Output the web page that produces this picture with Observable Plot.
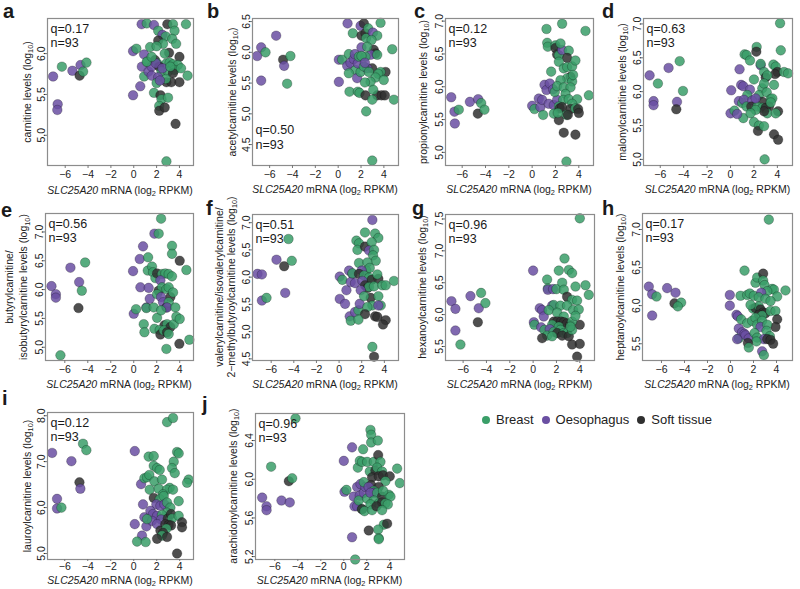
<!DOCTYPE html>
<html><head><meta charset="utf-8">
<script src="https://cdn.jsdelivr.net/npm/d3@7"></script>
<script src="https://cdn.jsdelivr.net/npm/@observablehq/plot@0.6"></script>
<style>
body{margin:0;background:#fff;font-family:"Liberation Sans",Arial,sans-serif;color:#1a1a1a;}
#fig{position:relative;width:800px;height:589px;overflow:hidden;background:#fff;}
#fig svg{position:absolute;overflow:visible;}
.letter{position:absolute;font-weight:bold;font-size:20px;line-height:1;}
.xlab,.ylab{position:absolute;font-size:10.5px;white-space:nowrap;text-align:center;color:#222;}
.xlab{transform:translate(-50%,-50%);line-height:1;}
.ylab{transform:translate(-50%,-50%) rotate(-90deg);}
sub{font-size:0.7em;vertical-align:-0.3em;line-height:0;}
.legend{position:absolute;display:flex;align-items:center;font-size:13px;color:#222;}
.legend span.dot{display:inline-block;width:8px;height:8px;border-radius:50%;margin:0 6px 0 8px;}
</style></head>
<body><div id="fig"></div>
<script>
// ---- categories ----
const tissueCodes = ["B", "O", "S"];
const tissueNames = ["Breast", "Oesophagus", "Soft tissue"];
const xTicks = [-6, -4, -2, 0, 2, 4];
const nSamples = 93;
const qValues = ["0.17", "0.50", "0.12", "0.63", "0.56", "0.51", "0.96", "0.17", "0.12", "0.96"];
const panelLetters = ["a", "b", "c", "d", "e", "f", "g", "h", "i", "j"];
const yLabels = [
  ["carnitine levels"], ["acetylcarnitine levels"], ["propionylcarnitine levels"], ["malonylcarnitine levels"],
  ["butyrylcarnitine/", "isobutyrylcarnitine levels"],
  ["valerylcarnitine/isovalerylcarnitine/", "2\u2212methylbutyroylcarnitine levels"],
  ["hexanoylcarnitine levels"], ["heptanoylcarnitine levels"], ["lauroylcarnitine levels"], ["arachidonylcarnitine levels"]
];
// ---- y tick values ----
const yTicksA = [5.0, 5.5, 6.0];
const yTicksB = [4.5, 5.0, 5.5, 6.0, 6.5];
const yTicksC = [5.0, 5.5, 6.0, 6.5, 7.0];
const yTicksD = [5.0, 5.5, 6.0, 6.5, 7.0];
const yTicksE = [5.0, 5.5, 6.0, 6.5, 7.0];
const yTicksF = [4.5, 5.0, 5.5, 6.0, 6.5, 7.0];
const yTicksG = [5.5, 6.0, 6.5, 7.0, 7.5];
const yTicksH = [5.5, 6.0, 6.5, 7.0];
const yTicksI = [5.0, 6.0, 7.0, 8.0];
const yTicksJ = [5.2, 5.6, 6.0, 6.4];

// ---- points: [SLC25A20 mRNA, metabolite level, tissue] ----
const carnitine = [[-7.06,5.72,"O"],[-6.66,5.38,"O"],[-6.69,5.31,"O"],[-6.29,5.84,"B"],[-5.37,5.79,"O"],[-4.66,5.86,"O"],[-4.74,5.73,"S"],[-4.43,5.78,"B"],[-4.14,5.89,"B"],
[-0.06,5.49,"O"],[-0.06,6.03,"O"],[0.23,6.06,"B"],[0.57,5.60,"O"],[0.69,6.36,"O"],[1.14,6.37,"B"],[0.91,5.99,"O"],[0.91,5.72,"B"],[0.71,5.84,"O"],[1.2,5.90,"B"],[1.29,5.78,"O"],[1.57,5.84,"O"],[1.43,6.08,"B"],[1.77,6.35,"O"],[2.14,6.28,"B"],[2.94,6.36,"S"],[3.43,6.36,"B"],[4.57,6.36,"B"],[2.51,6.23,"O"],[2.8,6.21,"B"],[3.57,6.28,"B"],[2.14,6.16,"S"],[2.57,6.12,"B"],[2.0,6.09,"B"],[3.09,6.01,"S"],[3.37,6.18,"B"],[3.71,6.12,"B"],[4.0,5.96,"S"],[2.71,6.00,"B"],[2.86,5.88,"B"],[3.14,5.89,"B"],[3.43,5.87,"B"],[3.86,5.86,"B"],[1.86,5.92,"S"],[1.14,5.90,"B"],[2.06,5.88,"B"],[1.57,5.73,"O"],[2.23,5.84,"S"],[2.43,5.78,"B"],[3.0,5.78,"B"],[3.57,5.80,"B"],[4.14,5.82,"B"],[3.43,5.76,"S"],[4.71,5.73,"B"],[2.14,5.71,"O"],[2.0,5.64,"B"],[2.86,5.65,"S"],[3.29,5.65,"S"],[4.0,5.65,"S"],[2.8,5.69,"B"],[2.29,5.67,"O"],[1.77,5.52,"B"],[2.34,5.49,"S"],[2.43,5.44,"B"],[3.0,5.46,"B"],[2.23,5.36,"B"],[2.23,5.30,"S"],[2.71,5.34,"S"],[3.66,5.14,"S"],[2.86,4.68,"B"],[1.94,5.88,"O"],[2.51,5.82,"O"],[3.2,5.84,"B"],[1.57,5.96,"B"]];

const acetylcarnitine = [[-7.09,5.94,"O"],[-6.74,6.08,"O"],[-6.74,5.54,"O"],[-6.36,6.00,"B"],[-5.43,6.27,"O"],[-4.82,5.88,"S"],[-4.73,5.78,"O"],[-4.18,5.94,"B"],[-4.47,5.49,"B"],
[0.06,5.88,"O"],[0.06,5.52,"O"],[0.35,5.88,"B"],[0.82,6.47,"O"],[0.79,5.78,"O"],[0.93,5.97,"B"],[1.08,5.83,"O"],[1.37,5.89,"O"],[1.28,6.31,"B"],[1.46,5.97,"O"],[1.52,5.71,"B"],[0.93,5.66,"B"],[1.66,5.58,"O"],[1.96,5.68,"B"],[1.72,5.82,"O"],[1.81,5.93,"B"],[0.99,5.36,"B"],[1.72,5.36,"B"],[1.87,5.34,"B"],[1.96,6.43,"O"],[2.25,6.47,"S"],[2.04,6.27,"S"],[2.39,6.31,"S"],[2.45,6.23,"B"],[2.04,6.08,"O"],[2.63,6.39,"B"],[3.04,6.32,"O"],[3.42,6.27,"B"],[3.71,6.48,"B"],[2.92,6.20,"B"],[3.12,6.04,"S"],[3.27,5.98,"S"],[2.83,5.96,"O"],[2.39,5.93,"B"],[2.54,6.09,"B"],[3.42,5.96,"B"],[4.73,6.05,"B"],[2.98,5.74,"S"],[2.54,5.74,"O"],[2.25,5.77,"B"],[2.69,5.68,"B"],[4.15,5.68,"S"],[3.71,5.68,"B"],[3.5,5.65,"B"],[3.27,5.59,"B"],[3.99,5.55,"B"],[2.83,5.52,"B"],[2.34,5.51,"B"],[2.39,5.30,"S"],[3.42,5.30,"S"],[3.8,5.30,"S"],[4.09,5.30,"S"],[3.07,5.39,"B"],[2.98,5.23,"B"],[2.45,5.04,"B"],[4.88,5.23,"B"],[2.98,4.24,"B"],[2.04,5.94,"B"],[2.34,5.83,"O"]];

const propionylcarnitine = [[-6.94,5.84,"O"],[-6.66,5.62,"O"],[-6.63,5.44,"O"],[-6.29,5.65,"B"],[-5.34,5.77,"O"],[-4.63,5.81,"O"],[-4.66,5.59,"S"],[-4.37,5.75,"B"],[-4.09,5.65,"B"],
[0,5.71,"O"],[0.2,5.66,"B"],[0.57,5.82,"O"],[0.71,5.69,"O"],[0.94,5.57,"B"],[1.06,6.03,"O"],[1.23,5.95,"O"],[0.86,5.80,"O"],[1.23,6.88,"B"],[1.29,6.67,"B"],[1.34,6.61,"B"],[1.63,6.23,"B"],[1.51,6.05,"O"],[1.8,5.96,"O"],[1.43,5.74,"O"],[1.86,5.72,"O"],[2.14,5.80,"O"],[1.94,5.92,"B"],[2.0,6.63,"B"],[2.0,6.59,"S"],[2.14,6.49,"S"],[2.29,6.48,"B"],[2.57,6.56,"O"],[2.43,6.66,"B"],[2.57,6.96,"B"],[3.14,6.55,"B"],[3.0,6.44,"S"],[2.29,6.38,"B"],[2.71,6.28,"B"],[3.0,6.30,"B"],[3.43,6.31,"B"],[3.71,6.40,"B"],[4.57,6.85,"B"],[3.29,6.15,"S"],[3.0,6.13,"B"],[3.43,6.08,"B"],[2.43,6.10,"B"],[2.14,6.01,"B"],[2.71,5.99,"B"],[3.29,5.99,"B"],[2.86,5.89,"B"],[2.66,5.80,"B"],[3.14,5.81,"B"],[3.86,5.81,"B"],[4.86,5.87,"B"],[2.29,5.70,"B"],[3.43,5.74,"B"],[2.37,5.67,"S"],[2.57,5.69,"S"],[3.29,5.66,"S"],[3.71,5.67,"B"],[3.94,5.66,"S"],[4.0,5.60,"S"],[2.94,5.57,"B"],[1.86,5.59,"B"],[2.29,5.49,"S"],[3.06,5.57,"S"],[2.71,5.30,"S"],[3.71,5.27,"S"],[2.94,4.86,"B"],[2.2,5.60,"B"],[3.51,6.18,"B"]];

const malonylcarnitine = [[-6.91,6.24,"O"],[-6.57,5.86,"O"],[-6.57,5.80,"O"],[-6.2,6.12,"B"],[-5.29,6.35,"O"],[-4.34,6.45,"B"],[-4.57,5.85,"O"],[-4.63,5.74,"S"],[-4.06,6.01,"B"],
[0.06,6.02,"O"],[0,5.68,"O"],[0.34,5.72,"B"],[0.77,6.33,"O"],[0.71,5.86,"O"],[0.91,6.10,"O"],[1.09,6.08,"O"],[1.0,5.83,"B"],[1.09,5.61,"B"],[0.57,5.67,"O"],[1.2,6.55,"B"],[1.37,6.54,"B"],[1.66,6.46,"B"],[2.0,6.18,"B"],[1.66,6.03,"O"],[1.43,5.95,"B"],[1.14,5.88,"O"],[1.37,5.78,"B"],[1.86,5.87,"O"],[1.77,5.78,"S"],[2.23,6.66,"B"],[2.2,6.59,"S"],[2.57,6.39,"O"],[2.57,6.41,"B"],[4.23,7.01,"B"],[4.29,6.61,"B"],[3.66,6.40,"B"],[3.86,6.37,"B"],[4.0,6.29,"S"],[3.8,6.26,"S"],[2.86,6.29,"B"],[3.0,6.21,"S"],[3.14,6.24,"B"],[4.57,6.29,"B"],[4.91,6.27,"B"],[3.71,6.10,"B"],[2.71,6.05,"B"],[2.86,6.12,"B"],[2.43,5.95,"B"],[3.09,5.99,"B"],[3.43,5.89,"B"],[3.57,5.90,"B"],[2.71,5.85,"S"],[3.29,5.78,"S"],[2.29,5.78,"B"],[2.71,5.76,"B"],[3.0,5.76,"S"],[3.14,5.68,"B"],[2.86,5.71,"S"],[2.14,5.73,"B"],[1.71,5.68,"B"],[4.06,5.71,"S"],[3.86,5.68,"B"],[2.0,5.55,"B"],[2.43,5.5,"B"],[2.34,5.42,"S"],[2.86,5.49,"B"],[3.71,5.37,"S"],[4.06,5.29,"S"],[2.91,5.0,"B"],[3.43,5.84,"B"],[2.14,5.90,"O"]];

const butyrylcarnitine = [[-7.16,6.06,"O"],[-6.78,5.92,"O"],[-6.78,5.86,"O"],[-6.38,4.86,"B"],[-5.51,6.38,"O"],[-4.75,6.13,"O"],[-4.81,5.68,"S"],[-4.52,5.98,"B"],[-4.23,6.47,"B"],
[-0.06,6.32,"O"],[0,5.58,"O"],[0.2,5.66,"B"],[0.81,6.75,"O"],[0.52,6.53,"O"],[0.58,6.04,"O"],[0.87,5.40,"B"],[0.93,5.26,"B"],[1.25,6.56,"B"],[1.22,6.33,"B"],[1.3,6.03,"O"],[1.59,6.40,"B"],[1.68,6.30,"B"],[1.8,6.97,"O"],[2.17,6.97,"B"],[2.38,7.23,"B"],[1.1,5.69,"O"],[1.39,5.84,"O"],[1.1,5.68,"B"],[1.88,6.20,"B"],[2.03,6.28,"S"],[2.46,6.27,"B"],[2.75,6.28,"B"],[3.04,6.27,"B"],[3.33,6.76,"B"],[3.33,6.62,"B"],[4.0,6.50,"S"],[4.58,6.34,"B"],[3.33,6.23,"B"],[2.32,6.16,"O"],[2.17,5.98,"S"],[2.46,6.04,"B"],[2.03,5.92,"B"],[2.38,5.87,"O"],[2.84,6.01,"B"],[3.04,6.04,"B"],[3.19,5.87,"S"],[3.42,5.95,"B"],[2.55,5.78,"O"],[2.84,5.69,"S"],[3.04,5.78,"B"],[2.9,5.69,"O"],[3.62,5.69,"B"],[2.03,5.51,"B"],[2.67,5.38,"S"],[2.9,5.40,"B"],[3.19,5.35,"S"],[3.48,5.40,"B"],[3.71,5.53,"B"],[4.0,5.49,"B"],[1.8,5.32,"B"],[2.26,5.30,"B"],[2.32,5.22,"S"],[2.61,5.29,"B"],[2.9,5.26,"S"],[3.04,5.23,"B"],[2.84,4.97,"B"],[3.97,5.06,"S"],[4.84,5.13,"B"],[1.74,5.69,"B"],[2.38,5.64,"B"]];

const valerylcarnitine = [[-7.21,6.06,"O"],[-6.82,6.05,"O"],[-6.82,5.57,"O"],[-6.41,5.62,"B"],[-5.53,6.32,"O"],[-4.85,6.20,"S"],[-4.76,5.71,"O"],[-4.47,6.70,"B"],[-4.18,6.30,"B"],
[0.06,6.01,"O"],[0.06,5.60,"O"],[0.29,5.95,"B"],[0.53,5.51,"O"],[0.65,5.76,"O"],[0.88,6.12,"O"],[1.18,6.06,"O"],[1.03,5.91,"O"],[1.18,6.07,"B"],[1.41,5.89,"O"],[0.94,5.28,"O"],[1.03,5.20,"B"],[1.41,5.36,"O"],[1.71,5.39,"B"],[1.82,5.51,"O"],[1.53,6.67,"B"],[1.76,6.62,"B"],[1.62,6.50,"B"],[2.29,6.56,"S"],[2.29,6.82,"B"],[2.94,7.05,"O"],[3.18,6.80,"B"],[3.47,6.72,"B"],[2.88,6.64,"B"],[2.65,6.49,"O"],[3.09,6.50,"B"],[3.0,6.40,"B"],[3.24,6.30,"B"],[1.76,6.26,"B"],[2.5,6.27,"B"],[2.41,6.12,"B"],[2.71,6.17,"B"],[2.0,6.12,"O"],[1.76,6.06,"S"],[2.21,6.03,"B"],[2.65,5.99,"B"],[2.88,5.95,"S"],[3.47,5.97,"S"],[3.38,6.05,"B"],[2.06,5.93,"O"],[2.29,5.85,"S"],[2.5,5.80,"S"],[2.65,5.82,"B"],[3.09,5.83,"B"],[3.82,5.85,"B"],[4.12,5.85,"B"],[2.79,5.62,"S"],[3.47,5.65,"B"],[3.68,5.48,"B"],[1.91,5.76,"O"],[2.21,5.65,"B"],[2.94,5.48,"B"],[3.47,5.48,"O"],[2.5,5.45,"B"],[2.29,5.32,"S"],[3.18,5.28,"S"],[3.38,5.27,"S"],[4.12,5.21,"S"],[3.88,5.13,"S"],[2.94,4.72,"B"],[3.09,4.54,"S"],[4.85,5.93,"B"],[1.71,5.22,"B"]];

const hexanoylcarnitine = [[-7.0,6.21,"O"],[-6.66,6.09,"O"],[-6.66,5.75,"O"],[-6.23,5.53,"B"],[-5.37,6.29,"O"],[-4.46,6.34,"B"],[-4.66,6.10,"O"],[-4.09,6.18,"B"],[-4.74,5.88,"S"],
[0,6.69,"O"],[0.06,5.88,"O"],[0.11,5.84,"B"],[0.69,5.80,"O"],[0.57,6.10,"O"],[0.77,6.07,"O"],[0.91,5.97,"O"],[0.97,5.76,"B"],[1.2,6.55,"B"],[1.26,6.41,"B"],[1.26,6.39,"O"],[1.71,6.40,"O"],[2.0,6.40,"B"],[2.2,6.69,"B"],[2.49,6.50,"B"],[2.69,6.88,"B"],[3.06,6.70,"B"],[3.34,6.65,"B"],[4.0,7.51,"B"],[3.63,6.44,"B"],[4.49,6.46,"B"],[4.77,6.31,"B"],[1.63,6.14,"O"],[1.77,6.15,"B"],[2.63,6.39,"B"],[2.91,6.28,"S"],[3.34,6.23,"B"],[3.77,6.22,"B"],[2.34,6.14,"B"],[2.91,6.14,"B"],[3.43,6.07,"B"],[3.91,6.08,"B"],[1.34,6.07,"B"],[2.06,6.03,"B"],[2.63,5.97,"B"],[1.77,5.89,"S"],[2.06,5.89,"S"],[2.4,5.89,"S"],[2.63,5.88,"S"],[2.91,5.86,"S"],[3.2,5.84,"S"],[4.0,5.84,"S"],[1.63,5.84,"B"],[2.2,5.81,"B"],[3.34,5.89,"B"],[3.63,5.98,"B"],[1.43,5.77,"O"],[1.2,5.67,"B"],[1.77,5.73,"B"],[2.34,5.76,"B"],[2.06,5.71,"S"],[2.63,5.71,"B"],[2.91,5.71,"B"],[2.49,5.67,"S"],[3.06,5.66,"S"],[3.34,5.76,"B"],[1.63,5.66,"B"],[0.77,5.63,"S"],[3.34,5.53,"S"],[4.0,5.54,"S"],[3.77,5.34,"S"],[3.2,5.81,"B"]];

const heptanoylcarnitine = [[-7.1,6.25,"O"],[-6.81,6.15,"O"],[-6.81,5.87,"O"],[-6.43,6.12,"B"],[-5.51,6.23,"O"],[-4.78,6.17,"O"],[-4.87,6.03,"S"],[-4.29,6.04,"B"],[-4.58,5.99,"B"],
[-0.06,6.14,"O"],[-0.06,6.0,"O"],[0.52,5.88,"O"],[0.64,5.86,"O"],[0.72,5.70,"O"],[0.87,6.13,"B"],[0.93,5.82,"B"],[0.72,5.57,"B"],[1.22,6.46,"B"],[1.45,6.14,"B"],[1.45,5.77,"B"],[1.01,5.65,"O"],[1.22,5.63,"O"],[1.3,5.61,"O"],[0.58,5.56,"O"],[1.59,5.57,"O"],[1.68,6.16,"B"],[2.03,6.13,"B"],[2.17,6.30,"B"],[2.32,6.37,"B"],[2.84,6.42,"S"],[2.84,6.33,"B"],[2.96,6.27,"B"],[3.62,6.22,"B"],[3.77,6.21,"B"],[4.78,6.20,"B"],[4.06,6.12,"B"],[3.19,6.19,"B"],[2.67,6.17,"O"],[2.46,6.11,"B"],[3.04,6.09,"B"],[3.48,6.06,"B"],[1.97,5.96,"B"],[2.17,5.97,"S"],[2.46,5.99,"B"],[2.61,5.95,"S"],[2.84,5.91,"S"],[3.04,5.90,"S"],[2.46,5.88,"S"],[2.75,5.87,"B"],[3.48,5.93,"B"],[3.91,5.93,"B"],[4.06,5.82,"S"],[3.91,5.72,"S"],[1.88,5.80,"B"],[2.17,5.84,"B"],[2.32,5.75,"B"],[2.75,5.80,"B"],[2.61,5.72,"O"],[3.19,5.75,"B"],[3.13,5.67,"B"],[3.42,5.60,"B"],[2.09,5.64,"B"],[2.32,5.58,"B"],[2.9,5.56,"O"],[3.19,5.56,"S"],[3.48,5.55,"S"],[3.71,5.50,"S"],[2.26,5.53,"B"],[1.51,5.51,"S"],[1.59,5.45,"B"],[2.75,5.40,"O"],[2.9,5.35,"B"],[3.33,7.13,"B"],[1.74,6.01,"B"]];

const lauroylcarnitine = [[-7.1,7.19,"O"],[-6.67,6.19,"O"],[-6.67,5.98,"O"],[-6.29,6.0,"B"],[-5.42,7.01,"O"],[-4.72,6.55,"S"],[-4.64,6.41,"O"],[-4.41,7.39,"B"],[-4.12,7.25,"B"],
[0.09,7.23,"O"],[0.09,5.64,"O"],[0.64,6.51,"O"],[0.93,6.64,"B"],[1.16,6.66,"B"],[0.81,6.07,"O"],[0.93,5.79,"O"],[1.1,5.59,"O"],[0.72,5.39,"O"],[0.29,5.26,"B"],[1.04,5.25,"B"],[1.36,6.71,"B"],[1.30,7.11,"B"],[1.74,7.12,"B"],[1.74,6.91,"B"],[2.03,6.86,"B"],[2.26,6.82,"B"],[1.8,6.57,"B"],[2.46,6.61,"B"],[1.39,6.39,"B"],[2.17,6.41,"B"],[2.9,7.86,"B"],[3.42,7.95,"B"],[3.48,7.0,"B"],[3.77,7.21,"B"],[3.91,7.18,"B"],[3.33,6.86,"B"],[3.57,6.75,"B"],[3.13,6.43,"B"],[2.9,6.39,"B"],[3.42,6.39,"B"],[4.78,6.61,"B"],[4.64,6.54,"B"],[2.55,6.29,"B"],[1.74,6.21,"S"],[2.26,6.18,"B"],[2.61,6.25,"B"],[3.91,6.14,"B"],[1.97,6.07,"O"],[2.32,6.04,"O"],[2.67,6.07,"O"],[2.9,6.11,"B"],[3.19,6.0,"B"],[1.45,5.93,"O"],[1.68,5.86,"O"],[2.03,5.82,"O"],[2.9,5.89,"B"],[2.46,5.84,"B"],[2.38,5.74,"O"],[1.59,5.71,"O"],[2.96,5.76,"S"],[3.25,5.86,"S"],[3.33,5.76,"B"],[3.91,5.82,"B"],[2.03,5.64,"O"],[2.32,5.5,"S"],[2.75,5.64,"S"],[3.04,5.62,"S"],[3.25,5.61,"S"],[4.2,5.68,"S"],[4.2,5.57,"S"],[2.84,5.54,"B"],[2.55,5.45,"S"],[2.46,5.39,"B"],[2.03,5.32,"S"],[2.9,5.36,"S"],[3.77,5.0,"S"],[1.16,5.75,"B"]];

const arachidonylcarnitine = [[-7.1,5.81,"O"],[-6.72,5.72,"O"],[-6.72,5.68,"O"],[-6.32,6.13,"B"],[-5.42,5.78,"O"],[-4.7,5.76,"O"],[-4.78,5.98,"S"],[-4.49,6.01,"B"],[-4.2,6.63,"B"],
[0,6.19,"O"],[0.06,5.87,"O"],[0.23,5.89,"B"],[0.72,6.33,"O"],[0.72,5.40,"O"],[0.87,5.82,"O"],[0.93,5.72,"O"],[1.16,5.92,"O"],[1.22,6.12,"B"],[1.39,6.19,"B"],[0.99,5.17,"B"],[1.39,5.83,"O"],[1.45,5.95,"O"],[1.16,5.72,"O"],[1.30,5.78,"B"],[1.59,5.69,"B"],[1.68,6.31,"B"],[1.59,6.18,"B"],[1.74,5.86,"O"],[1.88,5.92,"O"],[1.74,5.97,"B"],[2.03,5.80,"B"],[2.32,6.51,"B"],[2.38,6.46,"B"],[2.38,6.38,"B"],[2.96,6.40,"B"],[2.03,6.18,"B"],[2.61,6.18,"B"],[2.99,6.25,"S"],[3.19,6.18,"B"],[2.26,6.08,"B"],[2.75,6.09,"S"],[2.9,6.12,"B"],[3.33,6.08,"B"],[2.46,6.02,"S"],[3.04,6.03,"S"],[3.42,6.04,"S"],[4.0,6.03,"S"],[4.64,6.11,"B"],[4.87,5.96,"B"],[3.62,5.98,"B"],[2.38,5.94,"S"],[2.17,5.92,"O"],[3.04,5.92,"S"],[2.61,5.88,"B"],[2.61,5.86,"O"],[2.32,5.86,"O"],[2.9,5.86,"B"],[3.33,5.82,"S"],[3.91,5.84,"B"],[4.06,5.82,"B"],[3.42,5.88,"B"],[2.61,5.78,"B"],[3.04,5.75,"B"],[3.33,5.76,"S"],[2.32,5.74,"B"],[3.62,5.75,"B"],[3.83,5.74,"B"],[1.59,5.69,"S"],[1.80,5.67,"B"],[2.46,5.68,"B"],[2.84,5.72,"S"],[3.33,5.68,"B"],[3.48,5.53,"B"],[3.77,5.54,"S"],[2.17,5.47,"S"],[2.99,5.48,"B"],[3.04,5.39,"B"],[3.04,5.38,"B"]];

const panelData = [carnitine, acetylcarnitine, propionylcarnitine, malonylcarnitine, butyrylcarnitine,
  valerylcarnitine, hexanoylcarnitine, heptanoylcarnitine, lauroylcarnitine, arachidonylcarnitine];
const panelYTicks = [yTicksA, yTicksB, yTicksC, yTicksD, yTicksE, yTicksF, yTicksG, yTicksH, yTicksI, yTicksJ];

// ---- layout (positions in px, axis domains) ----
const layout = [
  {frame:[47,18,193,165],  xd:[-7.55,5.23], yd:[4.63,6.43], ylx:27,  ylh:1.2, xly:190, letter:[3,1],   qTop:true},
  {frame:[252,18,398,165], xd:[-7.5,5.28],  yd:[4.16,6.55], ylx:232, ylh:1.2, xly:189, letter:[207,1], qTop:false},
  {frame:[445,18,593,165], xd:[-7.43,5.26], yd:[4.8,7.04],  ylx:423, ylh:1.2, xly:189, letter:[414,1], qTop:true},
  {frame:[643,18,792,165], xd:[-7.43,5.29], yd:[4.91,7.08], ylx:622, ylh:1.2, xly:189, letter:[602,1], qTop:true},
  {frame:[45,213,193,360], xd:[-7.68,5.2],  yd:[4.77,7.32], ylx:17,  ylh:1.3, xly:384, letter:[1,200], qTop:true},
  {frame:[252,214,398,360],xd:[-7.65,5.25], yd:[4.47,7.15], ylx:226, ylh:1.12, xly:384, letter:[206,198], qTop:true},
  {frame:[445,214,594,360],xd:[-7.51,5.26], yd:[5.28,7.57], ylx:422, ylh:1.2, xly:384, letter:[412,198], qTop:true},
  {frame:[642,213,792,360],xd:[-7.65,5.39], yd:[5.28,7.21], ylx:620, ylh:1.2, xly:384, letter:[602,198], qTop:true},
  {frame:[47,412,193,559], xd:[-7.5,5.2],   yd:[4.87,8.07], ylx:27,  ylh:1.2, xly:580, letter:[2,388], qTop:true},
  {frame:[255,413,404,559],xd:[-7.68,5.28], yd:[5.17,6.68], ylx:233, ylh:1.2, xly:580, letter:[202,394], qTop:true}
];
const tissueColors = ["#3a9e68", "#6a4fa2", "#303030"];
const ML = 30, MR = 4, MT = 4, MB = 18;

const fig = document.getElementById("fig");
const minusFmt = d => d < 0 ? "\u2212" + (-d) : String(d);

layout.forEach((p, i) => {
  const [L, T, R, B] = p.frame;
  const fmt = d3.format(".1f");
  const tight = i >= 8;
  const svg = Plot.plot({
    width: R - L + ML + MR, height: B - T + MT + MB,
    marginLeft: ML, marginRight: MR, marginTop: MT, marginBottom: MB,
    x: {domain: p.xd},
    y: {domain: p.yd},
    color: {domain: tissueCodes, range: tissueColors},
    style: {fontFamily: "'Liberation Sans', Arial, sans-serif", fontSize: "10.5px", color: "#222", background: "transparent"},
    marks: [
      Plot.dot(panelData[i], {x: d => d[0], y: d => d[1], fill: d => d[2], r: 4.8, fillOpacity: 0.85,
        stroke: "#000", strokeOpacity: 0.3, strokeWidth: 0.8}),
      Plot.frame({stroke: "#8c8c8c", strokeWidth: 1.2}),
      Plot.axisX({ticks: xTicks, tickSize: tight ? 2 : 3, tickPadding: tight ? 1 : 2, label: null, stroke: "#777", tickFormat: minusFmt}),
      Plot.axisY({ticks: panelYTicks[i], tickSize: 3, tickPadding: 0, tickRotate: -90, label: null, stroke: "#777", tickFormat: fmt}),
      Plot.text([`q=${qValues[i]}\nn=${nSamples}`], {
        text: d => d,
        frameAnchor: p.qTop ? "top-left" : "bottom-left",
        lineAnchor: p.qTop ? "top" : "bottom",
        textAnchor: "start", dx: 3, dy: p.qTop ? 4 : -17,
        fontSize: 12.5, lineHeight: 1.16, fill: "#1a1a1a"
      })
    ]
  });
  svg.style.left = (L - ML) + "px";
  svg.style.top = (T - MT) + "px";
  fig.appendChild(svg);

  // panel letter
  const lt = document.createElement("div");
  lt.className = "letter";
  lt.textContent = panelLetters[i];
  lt.style.left = p.letter[0] + "px";
  lt.style.top = p.letter[1] + "px";
  fig.appendChild(lt);

  // x-axis title
  const xl = document.createElement("div");
  xl.className = "xlab";
  xl.innerHTML = "<i>SLC25A20</i> mRNA (log<sub>2</sub> RPKM)";
  xl.style.left = ((L + R) / 2) + "px";
  xl.style.top = p.xly + "px";
  fig.appendChild(xl);

  // y-axis title
  const yl = document.createElement("div");
  yl.className = "ylab";
  const lines = yLabels[i].slice();
  lines[lines.length - 1] += " (log<sub>10</sub>)";
  yl.innerHTML = lines.join("<br>");
  yl.style.lineHeight = p.ylh;
  yl.style.left = p.ylx + "px";
  yl.style.top = ((T + B) / 2) + "px";
  fig.appendChild(yl);
});

// legend
const lg = document.createElement("div");
lg.className = "legend";
lg.style.left = "474px";
lg.style.top = "412px";
tissueNames.forEach((n, k) => {
  const dot = document.createElement("span");
  dot.className = "dot";
  dot.style.background = tissueColors[k];
  lg.appendChild(dot);
  const t = document.createElement("span");
  t.textContent = n;
  lg.appendChild(t);
});
fig.appendChild(lg);
</script>
</body></html>
